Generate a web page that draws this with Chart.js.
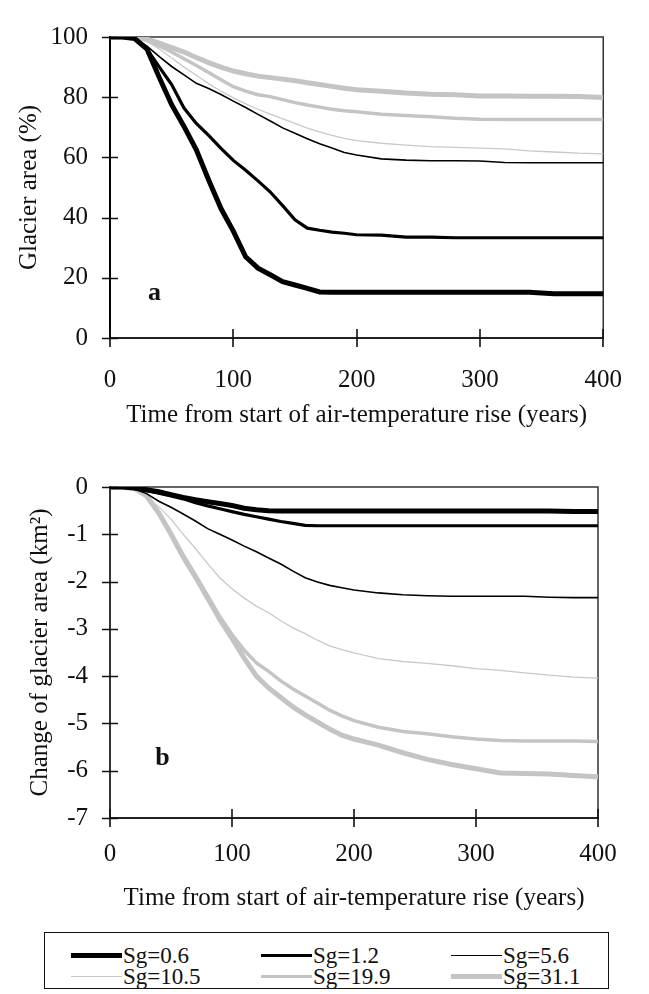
<!DOCTYPE html>
<html>
<head>
<meta charset="utf-8">
<script src="https://cdn.jsdelivr.net/npm/chart.js@4.4.1/dist/chart.umd.min.js"></script>
<style>
  html, body { margin: 0; padding: 0; background: #fff; }
  #page { position: relative; width: 649px; height: 994px; overflow: hidden; font-family: "Liberation Serif", serif; }
  canvas { position: absolute; left: 0; }
  #legend { position: absolute; left: 44px; top: 932px; width: 563px; height: 55px; border: 1.5px solid #111; }
  .item { position: absolute; display: flex; align-items: center; height: 21px; font-size: 23px; color: #111; white-space: nowrap; }
  .swatch { width: 51px; margin-right: 1px; }
</style>
</head>
<body>
<div id="page">
  <canvas id="chartA" width="649" height="430" style="top:0"></canvas>
  <canvas id="chartB" width="649" height="473" style="top:440px"></canvas>
  <div id="legend"></div>
</div>
<script>
const years = [0, 10, 20, 30, 40, 50, 60, 70, 80, 90, 100, 110, 120, 130, 140, 150, 160, 170, 180, 190, 200,
  220, 240, 260, 280, 300, 320, 340, 360, 380, 400];

const seriesLabels = ["Sg=0.6", "Sg=1.2", "Sg=5.6", "Sg=10.5", "Sg=19.9", "Sg=31.1"];

// panel a: glacier area, % of initial
const areaSg06 = [100, 100, 99.5, 96, 86.5, 77.5, 70.3, 62.5, 52.5, 43, 35.5, 27, 23.2, 21, 18.7, 17.6, 16.5, 15.3, 15.2, 15.2, 15.2,
  15.2, 15.2, 15.2, 15.2, 15.2, 15.2, 15.2, 14.7, 14.7, 14.7];
const areaSg12 = [100, 100, 99.5, 96, 90, 84.2, 76.4, 71.3, 67.3, 63, 59, 55.7, 52.2, 48.5, 44, 39.3, 36.5, 35.8, 35.2, 34.8, 34.3,
  34.2, 33.5, 33.5, 33.3, 33.3, 33.3, 33.3, 33.3, 33.3, 33.3];
const areaSg56 = [100, 100, 99.5, 97, 93.5, 90.2, 87.4, 84.6, 82.9, 80.9, 78.7, 76.6, 74.3, 72.1, 69.8, 68, 66.2, 64.5, 63.1, 61.6, 60.8,
  59.5, 59.1, 58.9, 58.9, 58.8, 58.3, 58.2, 58.2, 58.2, 58.2];
const areaSg105 = [100, 100, 99.8, 98.5, 96, 93, 90, 87.3, 84.5, 82, 79.8, 77.8, 76, 74.4, 72.8, 71.3, 69.7, 68.5, 67.3, 66.3, 65.6,
  64.7, 64.1, 63.6, 63.3, 63.1, 62.8, 62.2, 61.8, 61.4, 61.2];
const areaSg199 = [100, 100, 99.8, 98.8, 97, 95, 92.8, 90.5, 88.2, 85.8, 83.5, 82, 80.8, 80.2, 79.2, 78.2, 77.4, 76.7, 76, 75.5, 75.2,
  74.3, 73.9, 73.5, 73, 72.7, 72.6, 72.6, 72.6, 72.6, 72.6];
const areaSg311 = [100, 100, 100, 99.3, 98, 96.5, 95, 93.2, 91.5, 90, 88.7, 87.8, 87, 86.5, 86, 85.5, 84.8, 84.2, 83.6, 83, 82.5,
  82, 81.4, 81, 80.8, 80.4, 80.4, 80.3, 80.3, 80.2, 79.9];

// panel b: change of glacier area, km2
const changeSg06 = [0, 0, -0.02, -0.06, -0.1, -0.16, -0.22, -0.27, -0.31, -0.35, -0.39, -0.45, -0.48, -0.5, -0.51, -0.51, -0.51, -0.51, -0.51, -0.51, -0.51,
  -0.51, -0.51, -0.51, -0.51, -0.51, -0.51, -0.51, -0.51, -0.52, -0.52];
const changeSg12 = [0, 0, -0.03, -0.08, -0.13, -0.19, -0.25, -0.33, -0.4, -0.46, -0.52, -0.58, -0.63, -0.68, -0.73, -0.77, -0.81, -0.82, -0.82, -0.82, -0.82,
  -0.82, -0.82, -0.82, -0.82, -0.82, -0.82, -0.82, -0.82, -0.82, -0.82];
const changeSg56 = [0, 0, -0.04, -0.14, -0.3, -0.43, -0.57, -0.72, -0.88, -1.0, -1.12, -1.25, -1.37, -1.5, -1.63, -1.78, -1.92, -2.01, -2.08, -2.13, -2.18,
  -2.24, -2.28, -2.3, -2.31, -2.31, -2.31, -2.31, -2.33, -2.34, -2.34];
const changeSg105 = [0, 0, -0.06, -0.2, -0.42, -0.68, -1.0, -1.3, -1.62, -1.92, -2.15, -2.35, -2.52, -2.66, -2.83, -2.98, -3.1, -3.24, -3.36, -3.44, -3.51,
  -3.63, -3.69, -3.73, -3.78, -3.84, -3.88, -3.93, -3.98, -4.02, -4.04];
const changeSg199 = [0, 0, -0.03, -0.18, -0.53, -0.97, -1.44, -1.86, -2.3, -2.74, -3.12, -3.45, -3.72, -3.9, -4.1, -4.27, -4.42, -4.57, -4.72, -4.84, -4.94,
  -5.08, -5.17, -5.22, -5.28, -5.33, -5.36, -5.37, -5.37, -5.37, -5.38];
const changeSg311 = [0, 0, -0.03, -0.19, -0.55, -1.0, -1.48, -1.9, -2.35, -2.8, -3.2, -3.62, -4.0, -4.25, -4.45, -4.65, -4.82, -4.97, -5.12, -5.25, -5.33,
  -5.46, -5.62, -5.76, -5.87, -5.96, -6.05, -6.06, -6.07, -6.1, -6.13];

const areaSeries = [areaSg06, areaSg12, areaSg56, areaSg105, areaSg199, areaSg311];
const changeSeries = [changeSg06, changeSg12, changeSg56, changeSg105, changeSg199, changeSg311];

const xTitle = "Time from start of air-temperature rise (years)";

const lineColors = ["#000", "#000", "#000", "#c9c9c9", "#c4c4c4", "#c4c4c4"];
const lineWidths = [5, 3.2, 1.6, 1.3, 3.5, 5];

Chart.defaults.font.family = "'Liberation Serif', 'Times New Roman', serif";
Chart.defaults.color = "#111";

// frame on top/right, ticks crossing the axes, panel letter
const frameTicks = {
  id: "frameTicks",
  beforeDatasetsDraw(chart, args, opts) {
    const { ctx, chartArea: a, scales: { x, y } } = chart;
    ctx.save();
    ctx.strokeStyle = "#333";
    ctx.lineWidth = 1.5;
    ctx.beginPath();
    ctx.moveTo(a.left, a.top);
    ctx.lineTo(a.right, a.top);
    ctx.lineTo(a.right, a.bottom);
    ctx.stroke();

    ctx.strokeStyle = "#111";
    ctx.lineWidth = 1.6;
    ctx.beginPath();
    y.ticks.forEach(t => {
      const py = Math.round(y.getPixelForValue(t.value)) + 0.5;
      ctx.moveTo(a.left - 8, py);
      ctx.lineTo(a.left + 8, py);
    });
    x.ticks.forEach(t => {
      const px = Math.round(x.getPixelForValue(t.value));
      ctx.moveTo(px, a.bottom - 9);
      ctx.lineTo(px, a.bottom + 9);
    });
    ctx.stroke();

    ctx.font = "bold 26px 'Liberation Serif'";
    ctx.fillStyle = "#111";
    ctx.textAlign = "center";
    ctx.textBaseline = "middle";
    ctx.fillText(opts.letter, x.getPixelForValue(opts.at[0]), y.getPixelForValue(opts.at[1]));
    ctx.restore();
  }
};

function makeChart(id, values, p) {
  return new Chart(document.getElementById(id), {
    type: "line",
    data: {
      datasets: seriesLabels.map((label, i) => ({
        label,
        data: years.map((yr, k) => ({ x: yr, y: values[i][k] })),
        borderColor: lineColors[i],
        borderWidth: lineWidths[i],
        pointRadius: 0,
        tension: 0,
        fill: false
      }))
    },
    options: {
      responsive: false,
      animation: false,
      devicePixelRatio: 1,
      layout: { padding: { top: p.padTop, right: p.padRight, left: 0, bottom: 0 } },
      plugins: {
        legend: { display: false },
        tooltip: { enabled: false },
        frameTicks: { letter: p.letter, at: p.letterAt }
      },
      scales: {
        x: {
          type: "linear", min: 0, max: 400,
          ticks: { stepSize: 100, autoSkip: false, maxRotation: 0, font: { size: 25 }, padding: p.xPad },
          grid: { display: false, drawTicks: false },
          border: { color: "#222", width: 2 },
          title: { display: true, text: xTitle, font: { size: 25 }, padding: 0 },
          afterFit: s => { s.height = p.xHeight; }
        },
        y: {
          type: "linear", min: p.yMin, max: p.yMax,
          ticks: { stepSize: p.yStep, autoSkip: false, font: { size: 25 }, padding: 22 },
          grid: { display: false, drawTicks: false },
          border: { color: p.yAxisColor, width: 2 },
          title: { display: true, text: p.yTitle, font: { size: 25 }, padding: { top: p.yTitlePad, bottom: 0 } },
          afterFit: s => { s.width = 110; }
        }
      }
    },
    plugins: [frameTicks]
  });
}

makeChart("chartA", areaSeries, {
  padTop: 15, padRight: 35, xPad: 27, xHeight: 92,
  yMin: 0, yMax: 100, yStep: 20, yTitle: "Glacier area (%)", yTitlePad: 14, yAxisColor: "#000",
  letter: "a", letterAt: [36, 15]
});

makeChart("chartB", changeSeries, {
  padTop: 47, padRight: 51, xPad: 21, xHeight: 95,
  yMin: -7, yMax: 0, yStep: 1, yTitle: "Change of glacier area (km²)", yTitlePad: 25, yAxisColor: "#333",
  letter: "b", letterAt: [43, -5.73]
});

// legend: three columns, two rows
const legend = document.getElementById("legend");
const colX = [26, 216, 406];
const rowY = [12, 33];
seriesLabels.forEach((label, i) => {
  const item = document.createElement("div");
  item.className = "item";
  item.style.left = colX[i % 3] + "px";
  item.style.top = rowY[Math.floor(i / 3)] + "px";
  const sw = document.createElement("span");
  sw.className = "swatch";
  sw.style.borderTop = lineWidths[i] + "px solid " + lineColors[i];
  item.appendChild(sw);
  item.appendChild(document.createTextNode(label));
  legend.appendChild(item);
});
</script>
</body>
</html>
